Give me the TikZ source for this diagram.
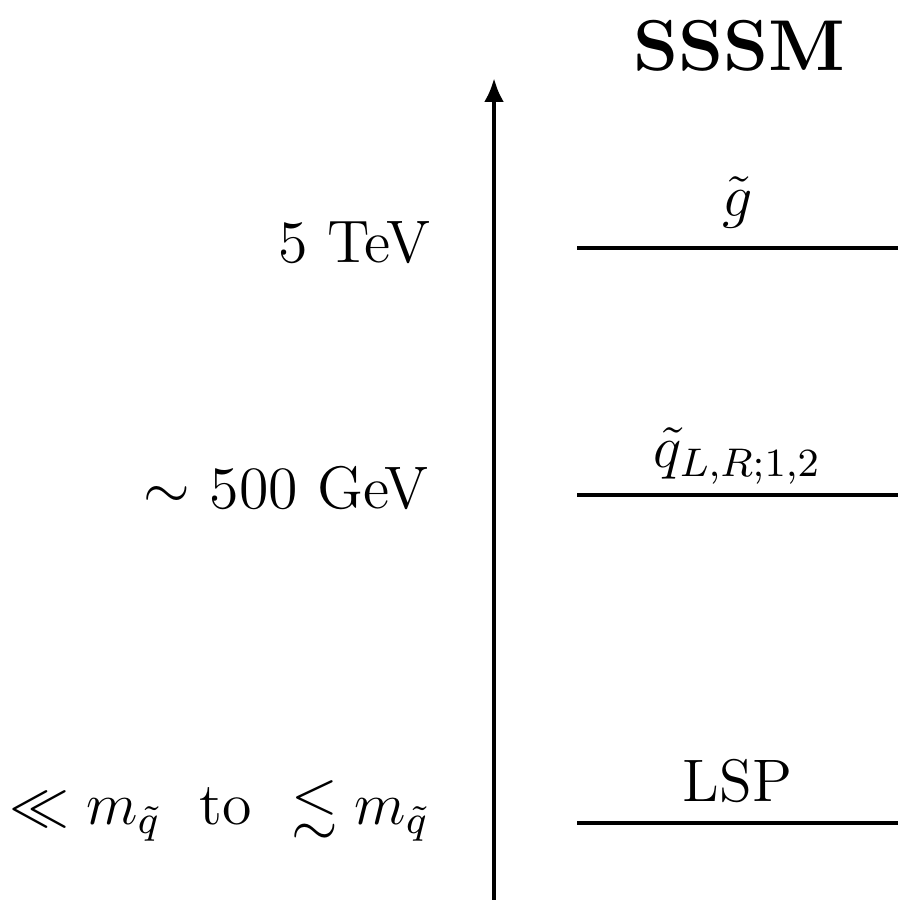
\documentclass[tikz,border=0pt]{standalone}
\usepackage{amsmath}
\usepackage{amssymb}
\usepackage{tikz}
\usetikzlibrary{arrows.meta, positioning}
\tikzset{
	axis/.style={-{Latex[length=4.8pt, width=4pt]}, line width=0.9pt},
	level/.style={line width=0.85pt},
	state/.style={above, inner sep=3.6pt, font=\large},
	mass/.style={anchor=base east, inner sep=0pt, font=\large},
	model/.style={anchor=base, inner sep=0pt, font=\Large\bfseries},
}

\begin{document}
\begin{tikzpicture}[x=0.2pt, y=0.2pt]
				\useasboundingbox (0,0) rectangle (898,900);
				\coordinate (bot) at (494,0);
				\coordinate (top) at (494,822);
				\draw[axis] (bot) -- (top);
				\node[model] (title) at (739,829) {SSSM};
				\foreach \n/\y in {glu/652, sq/405, lsp/77} {
					\coordinate (\n-l) at (577,\y);
					\coordinate (\n-r) at (898,\y);
				}
				\draw[level] (glu-l) -- node[state] (glulab) {$\tilde{g}$} (glu-r);
				\draw[level] (sq-l) -- node[state, yshift=-1.8pt] (sqlab) {$\tilde{q}_{L,R;1,2}$} (sq-r);
				\draw[level] (lsp-l) -- node[state] (lsplab) {LSP} (lsp-r);
				\node[mass] (mglu) at (431,637) {5 TeV};
				\node[mass] (msq) at (430,391) {$\sim$ 500 GeV};
				\node[mass] (mlsp) at (430,75) {$\ll m_{\tilde{q}}$~~to~~$\lesssim m_{\tilde{q}}$};
			\end{tikzpicture}
\end{document}
